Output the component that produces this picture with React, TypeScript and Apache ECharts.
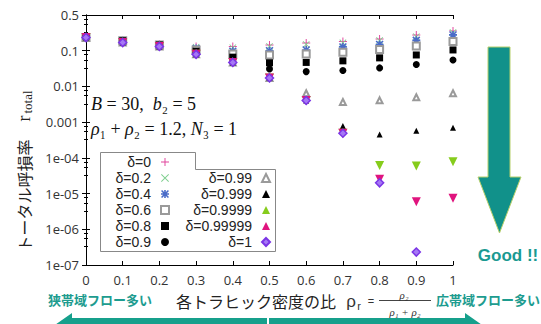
import React, { useEffect, useRef } from "react";
import * as echarts from "echarts";

const rho = [0, 0.1, 0.2, 0.3, 0.4, 0.5, 0.6, 0.7, 0.8, 0.9, 1];
const seriesNames = ["δ=0", "δ=0.2", "δ=0.4", "δ=0.6", "δ=0.8", "δ=0.9", "δ=0.99", "δ=0.999", "δ=0.9999", "δ=0.99999", "δ=1"];
const d0 = [0.233, 0.192, 0.15, 0.132, 0.132, 0.145, 0.165, 0.182, 0.214, 0.277, 0.359];
const d02 = [0.233, 0.19, 0.148, 0.126, 0.122, 0.132, 0.15, 0.166, 0.192, 0.248, 0.322];
const d04 = [0.233, 0.19, 0.148, 0.115, 0.097, 0.1, 0.105, 0.128, 0.15, 0.195, 0.277];
const d06 = [0.233, 0.19, 0.145, 0.105, 0.081, 0.076, 0.081, 0.09, 0.109, 0.136, 0.182];
const d08 = [0.233, 0.19, 0.145, 0.097, 0.066, 0.046, 0.047, 0.052, 0.063, 0.076, 0.105];
const d09 = [0.233, 0.169, 0.132, 0.079, 0.047, 0.031, 0.026, 0.028, 0.033, 0.041, 0.055];
const d099 = [0.233, 0.169, 0.132, 0.079, 0.047, 0.0173, 0.00646, 0.00368, 0.00408, 0.00498, 0.00646];
const d0999 = [0.233, 0.169, 0.132, 0.079, 0.047, 0.0173, 0.00406, 0.00078, 0.00045, 0.00057, 0.0007];
const d09999 = [0.233, 0.169, 0.132, 0.079, 0.047, 0.0173, 0.00406, 0.00049, 0.000061, 0.000059, 0.000078];
const d099999 = [0.233, 0.169, 0.132, 0.079, 0.047, 0.0173, 0.00406, 0.00049, 0.000025, 0.0000059, 0.0000074];
const d1 = [0.233, 0.169, 0.132, 0.079, 0.047, 0.0173, 0.00406, 0.00049, 0.00002, 0.00000023, null];
const xTickLabels = ["0", "0.1", "0.2", "0.3", "0.4", "0.5", "0.6", "0.7", "0.8", "0.9", "1"];
const yTickLabels = ["1e-07", "1e-06", "1e-05", "1e-04", "0.001", "0.01", "0.1", "0.5"];

const PLUS = "path://M4.4,0H5.6V4.4H10V5.6H5.6V10H4.4V5.6H0V4.4H4.4Z";
const CROSS = "path://M1,0.2L9.8,9L9,9.8L0.2,1Z M0.2,9L9,0.2L9.8,1L1,9.8Z";
const STAR = "path://M4,0H6V4H10V6H6V10H4V6H0V4H4Z M1.4,0L10,8.6L8.6,10L0,1.4Z M0,8.6L8.6,0L10,1.4L1.4,10Z";

const allData = [d0, d02, d04, d06, d08, d09, d099, d0999, d09999, d099999, d1];
const styles: any[] = [
  { symbol: PLUS, symbolSize: 8, color: "#e0449c" },
  { symbol: CROSS, symbolSize: 7, color: "#7fcf8f" },
  { symbol: STAR, symbolSize: 8, color: "#4a6cc8" },
  { symbol: "emptyRect", symbolSize: 7, color: "#9a9a9a" },
  { symbol: "rect", symbolSize: 7, color: "#000" },
  { symbol: "circle", symbolSize: 7, color: "#000" },
  { symbol: "emptyTriangle", symbolSize: 6, color: "#9a9a9a" },
  { symbol: "triangle", symbolSize: 6, color: "#000" },
  { symbol: "triangle", symbolSize: 9, color: "#86cc1c", rotate: 180 },
  { symbol: "triangle", symbolSize: 9, color: "#e0147e", rotate: 180 },
  { symbol: "diamond", symbolSize: 8, color: "#a578f5", border: "#7b35e6" },
];

export default function App() {
  const ref = useRef<HTMLDivElement>(null);
  useEffect(() => {
    if (!ref.current) return;
    const chart = echarts.init(ref.current, null, { renderer: "svg" });
    const series = allData.map((arr, i) => {
      const st = styles[i];
      return {
        name: seriesNames[i],
        type: "scatter",
        xAxisIndex: 0,
        yAxisIndex: 0,
        symbol: st.symbol,
        symbolSize: st.symbolSize,
        symbolRotate: st.rotate || 0,
        itemStyle: {
          color: st.color,
          borderColor: st.border || st.color,
          borderWidth: st.border ? 1.5 : st.symbol.indexOf("empty") === 0 ? 1 : 0,
          opacity: 1,
        },
        data: rho
          .map((x, j) => (arr[j] == null ? null : [x, arr[j]]))
          .filter((p) => p !== null),
      };
    });
    const tick = { show: true, inside: true, length: 4, lineStyle: { color: "#000" } };
    const legendCommon = {
      orient: "vertical",
      align: "right",
      padding: 0,
      itemGap: 0,
      itemWidth: 8,
      itemHeight: 8,
      selectedMode: false,
      textStyle: { fontSize: 14, lineHeight: 16, color: "#222", fontFamily: "Liberation Sans", padding: [0, 5, 0, 0] },
    };
    const T = (x: number, y: number, text: string, extra: any = {}) => ({
      type: "text",
      x,
      y,
      style: { text, fill: "#222", align: "center", verticalAlign: "middle", ...extra },
    });
    chart.setOption({
      animation: false,
      backgroundColor: "#fff",
      grid: { left: 86, right: 88, top: 15, bottom: 59, containLabel: false },
      xAxis: [
        {
          type: "value",
          position: "bottom",
          min: 0,
          max: 1,
          interval: 0.1,
          axisLine: { show: true, lineStyle: { color: "#000", width: 1 } },
          axisTick: tick,
          splitLine: { show: false },
          axisLabel: {
            margin: 8,
            fontSize: 13,
            lineHeight: 13,
            color: "#333",
            fontFamily: "Open Sans",
            formatter: (v: number) => xTickLabels[Math.round(v * 10)],
          },
        },
        {
          type: "value",
          position: "top",
          min: 0,
          max: 1,
          interval: 0.1,
          axisLine: { show: true, lineStyle: { color: "#000", width: 1 } },
          axisTick: tick,
          splitLine: { show: false },
          axisLabel: { show: false },
        },
      ],
      yAxis: [
        {
          type: "log",
          logBase: 10,
          min: 1e-7,
          max: 1,
          position: "left",
          name: "{j|トータル呼損率}{r|r}{t|total}",
          nameLocation: "middle",
          nameRotate: 90,
          nameGap: 31,
          nameTextStyle: {
            padding: [0, 62, 0, 0],
            rich: {
              j: { fontSize: 16, lineHeight: 20, fontFamily: "Noto Sans CJK JP", color: "#222" },
              r: { fontSize: 18, lineHeight: 20, fontFamily: "Liberation Serif", color: "#222", padding: [0, 0, 0, 18] },
              t: { fontSize: 13, lineHeight: 12, fontFamily: "Liberation Serif", color: "#222", verticalAlign: "bottom", padding: [0, 0, 0, 2] },
            },
          },
          axisLine: { show: true, lineStyle: { color: "#000", width: 1 } },
          axisTick: tick,
          minorTick: { show: true, splitNumber: 4, length: 2, lineStyle: { color: "#000" } },
          splitLine: { show: false },
          axisLabel: {
            margin: 7,
            fontSize: 13,
            color: "#333",
            fontFamily: "Open Sans",
            formatter: (v: number) => yTickLabels[Math.round(Math.log10(v)) + 7] || "",
          },
        },
        {
          type: "log",
          logBase: 10,
          min: 1e-7,
          max: 1,
          position: "right",
          axisLine: { show: true, lineStyle: { color: "#000", width: 1 } },
          axisTick: tick,
          minorTick: { show: true, splitNumber: 4, length: 2, lineStyle: { color: "#000" } },
          splitLine: { show: false },
          axisLabel: { show: false },
        },
      ],
      legend: [
        { ...legendCommon, data: seriesNames.slice(0, 6), right: 371, top: 154 },
        { ...legendCommon, data: seriesNames.slice(6), right: 270, top: 170 },
      ],
      graphic: [
        {
          type: "polygon",
          z: 1,
          shape: {
            points: [
              [100.5, 152.5],
              [195.5, 152.5],
              [195.5, 169.5],
              [275.5, 169.5],
              [275.5, 251.5],
              [100.5, 251.5],
            ],
          },
          style: { fill: "#fff", stroke: "#888", lineWidth: 1 },
        },
        {
          type: "text",
          x: 91,
          y: 104,
          style: {
            text: "{i|B} = 30,  {i|b}₂ = 5",
            fontSize: 18,
            fontFamily: "Liberation Serif",
            fill: "#111",
            verticalAlign: "middle",
            rich: { i: { fontStyle: "italic", fontSize: 18, fontFamily: "Liberation Serif", fill: "#111" } },
          },
        },
        {
          type: "text",
          x: 91,
          y: 129,
          style: {
            text: "{i|ρ}₁ + {i|ρ}₂ = 1.2, {i|N}₃ = 1",
            fontSize: 18,
            fontFamily: "Liberation Serif",
            fill: "#111",
            verticalAlign: "middle",
            rich: { i: { fontStyle: "italic", fontSize: 18, fontFamily: "Liberation Serif", fill: "#111" } },
          },
        },
        T(100, 299, "狭帯域フロー多い", { fontSize: 13, lineHeight: 14, fontWeight: "bold", fontFamily: "Noto Sans CJK JP", fill: "#1d9c8f" }),
        T(256, 301, "各トラヒック密度の比", { fontSize: 16, lineHeight: 16, fontFamily: "Noto Sans CJK JP", fill: "#222" }),
        T(351, 301, "ρ", { fontSize: 17, lineHeight: 15, fontFamily: "Liberation Sans", fill: "#333" }),
        T(359, 306, "r", { fontSize: 11, lineHeight: 10, fontFamily: "Liberation Sans", fill: "#333" }),
        T(371, 301, "=", { fontSize: 11, lineHeight: 10, fontFamily: "Liberation Sans", fill: "#333" }),
        { type: "line", shape: { x1: 379, y1: 300.5, x2: 431, y2: 300.5 }, style: { stroke: "#444", lineWidth: 1 } },
        T(404, 294.5, "ρ₂", { fontSize: 11, lineHeight: 10, fontStyle: "italic", fontFamily: "Liberation Serif", fill: "#333" }),
        T(405, 312, "ρ₁ + ρ₂", { fontSize: 11, lineHeight: 10, fontStyle: "italic", fontFamily: "Liberation Serif", fill: "#333" }),
        T(488, 299, "広帯域フロー多い", { fontSize: 13, lineHeight: 14, fontWeight: "bold", fontFamily: "Noto Sans CJK JP", fill: "#1d9c8f" }),
        {
          type: "polygon",
          shape: {
            points: [
              [488, 47],
              [510, 47],
              [510, 177],
              [521, 177],
              [499.5, 233],
              [478, 177],
              [488, 177],
            ],
          },
          style: { fill: "#11918a", stroke: "#b6cf6a", lineWidth: 1 },
        },
        T(508, 255, "Good !!", { fontSize: 17, fontWeight: "bold", fontFamily: "Liberation Sans", fill: "#1a9a92" }),
        {
          type: "polygon",
          shape: {
            points: [
              [267, 318],
              [72, 318],
              [72, 313],
              [52, 327],
              [72, 341],
              [72, 336],
              [267, 336],
            ],
          },
          style: { fill: "#16a08c" },
        },
        {
          type: "polygon",
          shape: {
            points: [
              [269, 318],
              [465, 318],
              [465, 313],
              [485, 327],
              [465, 341],
              [465, 336],
              [269, 336],
            ],
          },
          style: { fill: "#16a08c" },
        },
      ],
      series,
    });
    return () => chart.dispose();
  }, []);
  return <div ref={ref} style={{ position: "fixed", left: 0, top: 0, width: 541, height: 324 }} />;
}
